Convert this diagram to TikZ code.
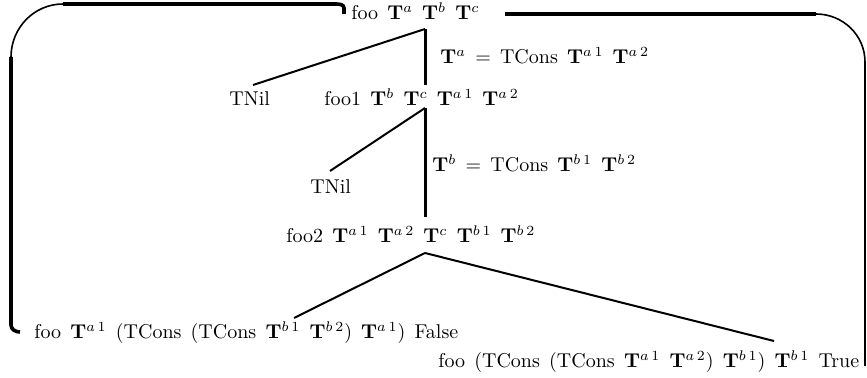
\documentclass[tikz,border=0pt]{standalone}
\usepackage{amsmath}
\newcommand\tg{\hspace{0.46em}}
\newcommand\TT[1]{$\mathbf{T}^{#1}$}
\begin{document}
\begin{tikzpicture}[x=0.5pt,y=-0.5pt,
  lbl/.style={inner sep=0pt, anchor=base west, font=\fontsize{10}{12}\selectfont},
  edge/.style={line width=1pt},
  thickedge/.style={line width=1.5pt},
  loopthick/.style={line width=1.8pt},
  loopthin/.style={line width=0.8pt}]
\useasboundingbox (0,0) rectangle (867,378);
% labels
\node[lbl] (root) at (351,20) {foo\tg\TT{a}\tg\TT{b}\tg\TT{c}};
\node[lbl] (ea) at (440,64) {\TT{a}\tg=\tg TCons\tg\TT{a\,1}\tg\TT{a\,2}};
\node[lbl] (nil1) at (229,106) {TNil};
\node[lbl] (foo1) at (324,106) {foo1\tg\TT{b}\tg\TT{c}\tg\TT{a\,1}\tg\TT{a\,2}};
\node[lbl] (eb) at (432,172) {\TT{b}\tg=\tg TCons\tg\TT{b\,1}\tg\TT{b\,2}};
\node[lbl] (nil2) at (310,194) {TNil};
\node[lbl] (foo2) at (286,243) {foo2\tg\TT{a\,1}\tg\TT{a\,2}\tg\TT{c}\tg\TT{b\,1}\tg\TT{b\,2}};
\node[lbl] (resF) at (34,339) {foo\tg\TT{a\,1}\tg(TCons\tg(TCons\tg\TT{b\,1}\tg\TT{b\,2})\tg\TT{a\,1})\tg False};
\node[lbl] (resT) at (438,368) {foo\tg(TCons\tg(TCons\tg\TT{a\,1}\tg\TT{a\,2})\tg\TT{b\,1})\tg\TT{b\,1}\tg True};
% branch points
\coordinate (r0) at (425,29);
\coordinate (n1) at (253,85);
\coordinate (f1t) at (425,85);
\coordinate (f1b) at (425,108);
\coordinate (n2) at (330,171);
\coordinate (f2t) at (425,217);
\coordinate (f2b) at (425,253);
\coordinate (lf) at (294,318);
\coordinate (rt) at (774,341);
\draw[edge] (r0) -- (n1);
\draw[thickedge] (r0) -- (f1t);
\draw[edge] (f1b) -- (n2);
\draw[thickedge] (f1b) -- (f2t);
\draw[edge] (f2b) -- (lf);
\draw[edge] (f2b) -- (rt);
% recursion loops
\coordinate (lstart) at (344,14);
\coordinate (lend) at (20,332);
\draw[loopthick] (lstart) -- (344,8) to[out=90,in=0] (336,4) -- (63,4);
\draw[loopthin] (63,4) to[out=180,in=90] (11,57);
\draw[loopthick] (11,57) -- (11,325) to[out=-90,in=180] (lend);
\coordinate (rstart) at (505,14);
\coordinate (rend) at (865,366);
\draw[loopthick] (rstart) -- (816,14);
\draw[loopthin] (816,14) to[out=0,in=90] (865,62) -- (rend);
\end{tikzpicture}
\end{document}
